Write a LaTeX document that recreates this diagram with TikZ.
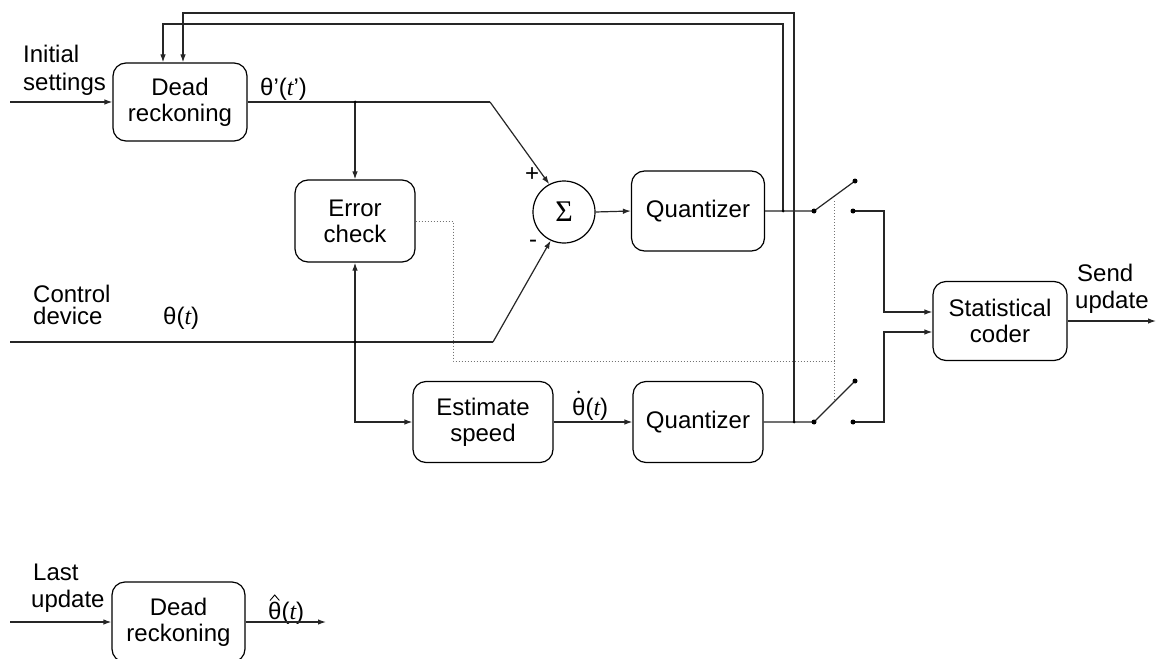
\documentclass[tikz,border=0pt]{standalone}
\usepackage{fontspec}
\setmainfont{Liberation Sans}
\newfontfamily\serifx{Liberation Serif}
\usetikzlibrary{arrows.meta}
\newcommand\tit{{\serifx\itshape t}}
\begin{document}
\begin{tikzpicture}[x=1pt,y=-1pt,
  every node/.style={font=\fontsize{24}{26}\selectfont, inner sep=0pt},
  blk/.style={draw, rounded corners=13pt, line width=1.2pt, align=center},
  ln/.style={line width=1.2pt, black!85},
  arr/.style={ln, -{Latex[length=8pt,width=5.5pt]}},
  dotl/.style={line width=1pt, black!55, dotted},
  jdot/.style={circle, fill=black, minimum size=3pt, inner sep=0pt},
  sdot/.style={circle, fill=black, minimum size=5pt, inner sep=0pt},
  lbl/.style={anchor=base west}]
\clip (0,0) rectangle (1158,658);
\fill[white] (0,0) rectangle (1158,658);

% blocks
\node[blk, minimum width=134pt, minimum height=78pt] (dr1) at (180,102) {Dead\\reckoning};
\node[blk, minimum width=120pt, minimum height=82pt] (err) at (355,221) {Error\\check};
\node[draw, circle, line width=1.2pt, minimum size=62pt] (sig) at (564,212) {\serifx\fontsize{30}{30}\selectfont Σ};
\node[blk, minimum width=133pt, minimum height=80pt] (q1) at (698,211) {Quantizer};
\node[blk, minimum width=140pt, minimum height=81pt] (est) at (483,422) {Estimate\\speed};
\node[blk, minimum width=130pt, minimum height=81pt] (q2) at (698,422) {Quantizer};
\node[blk, minimum width=134pt, minimum height=79pt] (sc) at (1000,321) {Statistical\\coder};
\node[blk, minimum width=133pt, minimum height=80pt] (dr2) at (178.5,622) {Dead\\reckoning};

% coordinates
\coordinate (in1) at (10,102);
\coordinate (j1) at (355,102);
\coordinate (b1) at (490,102);
\coordinate (in2) at (10,342);
\coordinate (j2) at (355,342);
\coordinate (b2) at (493,342);
\coordinate (c2) at (355,422);
\coordinate (p1) at (814,211);
\coordinate (l1) at (855,181);
\coordinate (k1) at (853,211);
\coordinate (p2) at (814,422);
\coordinate (l2) at (855,381);
\coordinate (k2) at (853,422);
\coordinate (f1) at (783,211);
\coordinate (f2) at (794,422);
\coordinate (out) at (1156,321);
\coordinate (in3) at (10,622);
\coordinate (out3) at (326,622);

% text labels
\node[lbl] (t1) at (23,63) {Initial};
\node[lbl] (t2) at (23,91) {settings};
\node[lbl] (t3) at (33,302) {Control};
\node[lbl] (t4) at (33,324) {device};
\node[lbl] (t5) at (163,324) {θ(\tit)};
\node[lbl] (t6) at (260,96) {θ'(\tit')};
\node[lbl] (t7) at (1077,281) {Send};
\node[lbl] (t8) at (1075,308) {update};
\node[lbl] (t9) at (33,580) {Last};
\node[lbl] (t10) at (31,607) {update};
\node[lbl] (t11) at (268,619) {θ(\tit)};
\node[lbl] (t12) at (572,415) {θ(\tit)};
\node (plus) at (532,175) {+};
\node (minus) at (533,244) {-};

% accents on theta
\fill[black] (578.7,392) circle (1.5pt);
\draw[line width=0.9pt] (270,600.5) -- (274.7,595) -- (279.4,600.5);

% connectors
\draw[arr] (in1) -- (dr1.west |- in1);
\draw[ln] (dr1.east |- j1) -- (b1);
\draw[arr] (b1) -- (sig.118);
\draw[arr] (j1) -- (err.north);
\draw[ln] (in2) -- (b2);
\draw[arr] (b2) -- (sig.245);
\draw[arr] (j2) -- (err.south);
\draw[arr] (j2) -- (c2) -- (est.west);
\draw[arr] (est.east) -- (q2.west);
\draw[arr] (sig.east) -- (q1.west);

% switches
\draw[ln] (q1.east) -- (p1) -- (l1);
\draw[arr] (k1) -- (884,211) -- (884,312) -- (sc.west |- 0,312);
\draw[ln] (q2.east) -- (p2) -- (l2);
\draw[arr] (k2) -- (884,422) -- (884,332) -- (sc.west |- 0,332);
\node[sdot] at (p1) {};
\node[sdot] at (l1) {};
\node[sdot] at (k1) {};
\node[sdot] at (p2) {};
\node[sdot] at (l2) {};
\node[sdot] at (k2) {};

% feedback
\draw[arr] (f1) -- (783,24) -- (163,24) -- (163,0 |- dr1.north);
\draw[arr] (f2) -- (794,13) -- (183,13) -- (183,0 |- dr1.north);
\node[jdot] at (j1) {};
\node[jdot] at (j2) {};
\node[jdot] at (f1) {};
\node[jdot] at (f2) {};

% dotted control link
\draw[dotl] (err.east) -- (453,221) -- (453,361) -- (834,361);
\draw[dotl] (834,201) -- (834,400);

% output
\draw[arr] (sc.east) -- (out);
\draw[arr] (in3) -- (dr2.west);
\draw[arr] (dr2.east) -- (out3);
\end{tikzpicture}
\end{document}
